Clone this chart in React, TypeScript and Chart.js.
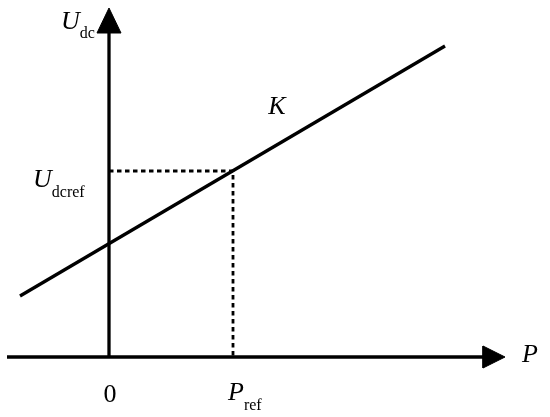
import React, { useEffect, useRef } from "react";
import { Chart, registerables } from "chart.js";

Chart.register(...registerables);

// Values (P horizontal, U_dc vertical, arbitrary units)
const lineP = [-89, 336];
const lineU = [61, 311];
const refP = [0, 124, 124];
const refU = [186, 186, 0];
const xAxisP = [-102, 380];
const yAxisU = [0, 330];
const xArrowP = [396, 374, 374, 396];
const xArrowU = [0, 11, -11, 0];
const yArrowP = [0, -12, 12, 0];
const yArrowU = [349, 324, 324, 349];
const kLabelP = 168;

const pts = (xs: number[], ys: number[]) => xs.map((x, i) => ({ x, y: ys[i] }));

const labelPlugin = {
  id: "labels",
  afterDraw(chart: any) {
    const ctx = chart.ctx;
    const xs = chart.scales.x;
    const ys = chart.scales.y;
    const X = (v: number) => xs.getPixelForValue(v);
    const Y = (v: number) => ys.getPixelForValue(v);
    const main = "italic 26px 'Liberation Serif', 'Times New Roman', serif";
    const up = "26px 'Liberation Serif', 'Times New Roman', serif";
    const sub = "16px 'Liberation Serif', 'Times New Roman', serif";
    ctx.save();
    ctx.fillStyle = "#000";
    ctx.textBaseline = "alphabetic";
    const withSub = (m: string, s: string, x: number, y: number, dy: number) => {
      ctx.textAlign = "left";
      ctx.font = main;
      ctx.fillText(m, x, y);
      const w = ctx.measureText(m).width;
      ctx.font = sub;
      ctx.fillText(s, x + w, y + dy);
    };
    // U_dc near top of y axis
    withSub("U", "dc", X(0) - 48, Y(yArrowU[0]) + 21, 9);
    // U_dcref
    withSub("U", "dcref", X(0) - 76, Y(refU[0]) + 16, 10);
    // P_ref
    withSub("P", "ref", X(refP[1]) - 5, Y(0) + 43, 10);
    // P at x arrow
    ctx.font = main;
    ctx.textAlign = "left";
    ctx.fillText("P", X(xArrowP[0]) + 17, Y(0) + 5);
    // 0
    ctx.font = up;
    ctx.textAlign = "center";
    ctx.fillText("0", X(0) + 1, Y(0) + 45);
    // K
    const kU = lineU[0] + ((kLabelP - lineP[0]) * (lineU[1] - lineU[0])) / (lineP[1] - lineP[0]);
    ctx.font = main;
    ctx.textAlign = "center";
    ctx.fillText("K", X(kLabelP), Y(kU) - 31);
    ctx.restore();
  },
};

export default function App() {
  const ref = useRef<HTMLCanvasElement>(null);
  useEffect(() => {
    document.body.style.margin = "0";
    const base = { showLine: true, pointRadius: 0, borderColor: "#000", backgroundColor: "#000", fill: false };
    const chart = new Chart(ref.current!, {
      type: "scatter",
      data: {
        datasets: [
          { ...base, data: pts(xAxisP, [0, 0]), borderWidth: 3.3 },
          { ...base, data: pts([0, 0], yAxisU), borderWidth: 3.3 },
          { ...base, data: pts(xArrowP, xArrowU), borderWidth: 1, fill: "shape" },
          { ...base, data: pts(yArrowP, yArrowU), borderWidth: 1, fill: "shape" },
          { ...base, data: pts(refP, refU), borderWidth: 2.8, borderDash: [4.5, 3.5] },
          { ...base, data: pts(lineP, lineU), borderWidth: 3.3 },
        ] as any,
      },
      options: {
        animation: false,
        responsive: false,
        layout: { padding: 0 },
        plugins: { legend: { display: false }, tooltip: { enabled: false } },
        scales: {
          x: { type: "linear", min: -109, max: 441, display: false },
          y: { type: "linear", min: -60, max: 357, display: false },
        },
      },
      plugins: [labelPlugin],
    });
    return () => chart.destroy();
  }, []);
  return (
    <div style={{ width: 550, height: 417, background: "#fff" }}>
      <canvas ref={ref} width={550} height={417} style={{ display: "block", width: 550, height: 417 }} />
    </div>
  );
}
